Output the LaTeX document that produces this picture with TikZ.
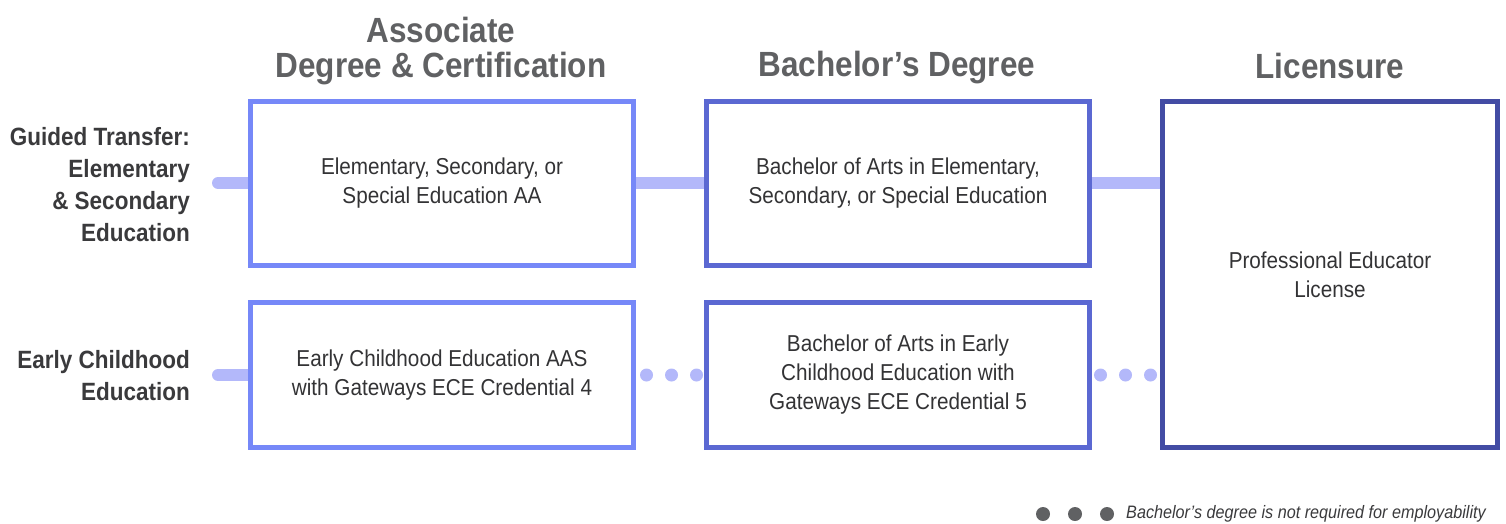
\documentclass[tikz,border=0pt]{standalone}
\usepackage{fontspec}
\usetikzlibrary{calc}
\setmainfont[FakeStretch=0.9]{Liberation Sans}
\definecolor{cA}{HTML}{7688F8}
\definecolor{cB}{HTML}{5B68D2}
\definecolor{cC}{HTML}{434CA4}
\definecolor{conn}{HTML}{B3B8FA}
\definecolor{head}{HTML}{606163}
\definecolor{lbl}{HTML}{3A3A3C}
\definecolor{txt}{HTML}{333335}
\tikzset{
  box/.style={draw, line width=5pt, fill=white, inner sep=0pt, align=center,
    text=txt, font=\fontsize{23}{29}\selectfont},
  connline/.style={conn, line width=12pt},
  dotfill/.style={fill=conn},
  header/.style={text=head, font=\bfseries\fontsize{35}{35}\selectfont, align=center, inner sep=0pt},
  rowlabel/.style={text=lbl, font=\bfseries\fontsize{25}{32}\selectfont, align=right, inner sep=0pt, anchor=east},
}
\begin{document}
\begin{tikzpicture}[x=1pt,y=-1pt]
\useasboundingbox (0,0) rectangle (1506,523);
% connectors (behind boxes)
\coordinate (s1) at (218,183);
\coordinate (s2) at (218,375);
\coordinate (p1) at (442,183);
\coordinate (p3) at (1330,183);
\coordinate (q1) at (442,375);
\draw[connline, line cap=round] (s1) -- (p1);
\draw[connline] (p1) -- (p3);
\draw[connline, line cap=round] (s2) -- (q1);
% boxes
\node[box, draw=cA, minimum width=383pt, minimum height=164pt] (a1) at (442,183.5) {Elementary, Secondary, or\\Special Education AA};
\node[box, draw=cB, minimum width=383pt, minimum height=164pt] (a2) at (898,183.5) {Bachelor of Arts in Elementary,\\Secondary, or Special Education};
\node[box, draw=cC, minimum width=335pt, minimum height=346pt] (a3) at (1330,274.5) {Professional Educator\\License};
\node[box, draw=cA, minimum width=383pt, minimum height=145pt] (b1) at (442,375) {Early Childhood Education AAS\\with Gateways ECE Credential 4};
\node[box, draw=cB, minimum width=383pt, minimum height=145pt] (b2) at (898,375) {Bachelor of Arts in Early\\Childhood Education with\\Gateways ECE Credential 5};
% dotted connectors
\foreach \i in {0,1,2} {
  \fill[dotfill] ($(b1.east)+(10.5+25*\i,0)$) circle (6.5pt);
  \fill[dotfill] ($(b2.east)+(8.5+25*\i,0)$) circle (6.5pt);
}
% headers
\node[header] (h1) at (441,51) {Associate\\[0pt]Degree \& Certification};
\node[header] (h2) at (897,68) {Bachelor’s Degree};
\node[header] (h3) at (1330,66) {Licensure};
% row labels
\node[rowlabel] (r1) at (190,185) {Guided Transfer:\\Elementary\\\& Secondary\\Education};
\node[rowlabel] (r2) at (190,376) {Early Childhood\\Education};
% legend
\foreach \i in {0,1,2} \fill[head] (1043+32*\i,514) circle (7pt);
\node[text=lbl, font=\itshape\fontsize{18}{18}\selectfont, anchor=west, inner sep=0pt] (leg) at (1126,514) {Bachelor’s degree is not required for employability};
\end{tikzpicture}
\end{document}
